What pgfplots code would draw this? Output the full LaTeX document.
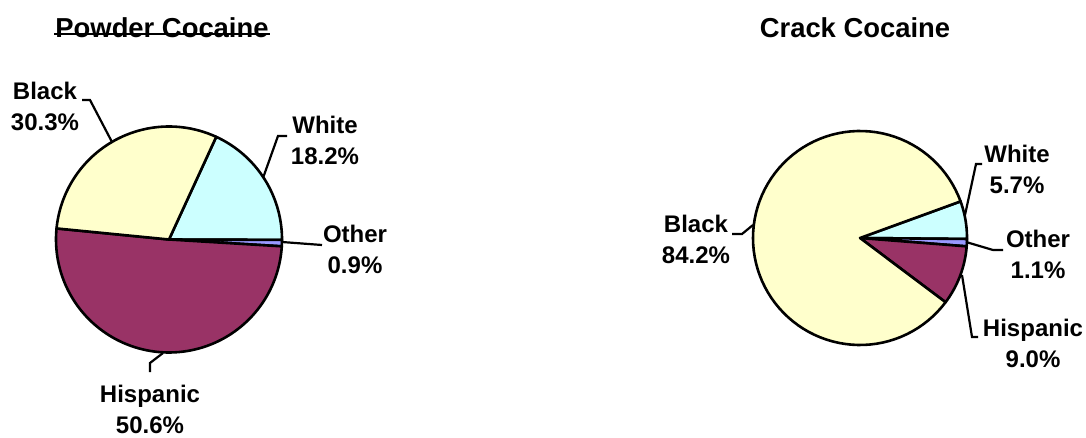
\documentclass[border=0pt]{standalone}
\usepackage{pgfplots}
\usepackage{pgfplotstable}
\pgfplotsset{compat=1.18}
\usepackage{fontspec}
\setmainfont{Liberation Sans}
\definecolor{cBlack}{HTML}{FFFFCC}
\definecolor{cWhite}{HTML}{CCFFFF}
\definecolor{cOther}{HTML}{9999FF}
\definecolor{cHisp}{HTML}{993366}

\pgfplotstableread{
group share
White 18.2
Other 0.9
Hispanic 50.6
Black 30.3
}\powder
\pgfplotstableread{
group share
White 5.7
Other 1.1
Hispanic 9.0
Black 84.2
}\crack

% slice: cx, cy, r, start angle, end angle, colour
\newcommand{\slice}[6]{%
  \addplot[draw=black, line width=1.3pt, fill=#6, line join=round, domain=#5:#4, samples=90, variable=\t]
    ({#1+#3*cos(\t)}, {#2-#3*sin(\t)}) -- (#1,#2) -- cycle;
}

\newcommand{\angles}[3]{% table, start angle, prefix
  \pgfplotstablegetelem{0}{share}\of#1\let\va\pgfplotsretval%
  \pgfplotstablegetelem{1}{share}\of#1\let\vb\pgfplotsretval%
  \pgfplotstablegetelem{2}{share}\of#1\let\vc\pgfplotsretval%
  \pgfmathsetmacro\aA{#2}%
  \pgfmathsetmacro\aB{\aA-3.6*\va}%
  \pgfmathsetmacro\aC{\aB-3.6*\vb}%
  \pgfmathsetmacro\aD{\aC-3.6*\vc}%
  \pgfmathsetmacro\aE{\aA-360}%
  \expandafter\global\expandafter\let\csname #3A\endcsname\aA%
  \expandafter\global\expandafter\let\csname #3B\endcsname\aB%
  \expandafter\global\expandafter\let\csname #3C\endcsname\aC%
  \expandafter\global\expandafter\let\csname #3D\endcsname\aD%
  \expandafter\global\expandafter\let\csname #3E\endcsname\aE%
}

\begin{document}%
\angles{\powder}{65.3}{p}%
\angles{\crack}{20}{c}%
\begin{tikzpicture}
\begin{axis}[
  width=543pt, height=219pt, scale only axis,
  xmin=0, xmax=1086, ymin=0, ymax=438, y dir=reverse,
  hide axis, clip=false,
]
% Powder cocaine
\slice{169}{239.5}{113}{\pA}{\pB}{cWhite}
\slice{169}{239.5}{113}{\pB}{\pC}{cOther}
\slice{169}{239.5}{113}{\pC}{\pD}{cHisp}
\slice{169}{239.5}{113}{\pD}{\pE}{cBlack}
% Crack cocaine
\slice{860}{238}{107}{\cA}{\cB}{cWhite}
\slice{860}{238}{107}{\cB}{\cC}{cOther}
\slice{860}{238}{107}{\cC}{\cD}{cHisp}
\slice{860}{238}{107}{\cD}{\cE}{cBlack}

% leader lines
\tikzset{lead/.style={line width=1.1pt}}
\draw[lead] (82,100) -- (90,100) -- (112,142);
\draw[lead] (287,136) -- (278,136) -- (263,178);
\draw[lead] (282,242) -- (322,245);
\draw[lead] (163,353) -- (150,363) -- (150,372);
\draw[lead] (982,164) -- (976,164) -- (965,215);
\draw[lead] (732,234) -- (742,234) -- (753,225);
\draw[lead] (966,242) -- (993,250) -- (1003,250);
\draw[lead] (962,275) -- (972,337) -- (978,337);

% labels
\tikzset{lab/.style={font=\fontsize{12}{15.5}\selectfont\bfseries, align=center, inner sep=0pt}}
\node[lab] at (45,106) {Black\\30.3\%};
\node[lab] at (325,140) {White\\18.2\%};
\node[lab] at (355,249) {Other\\0.9\%};
\node[lab] at (150,409) {Hispanic\\50.6\%};
\node[lab] at (1017,169) {White\\5.7\%};
\node[lab] at (696,239) {Black\\84.2\%};
\node[lab] at (1038,254) {Other\\1.1\%};
\node[lab] at (1033,343) {Hispanic\\9.0\%};

\node[font=\fontsize{13.7}{16}\selectfont\bfseries, inner sep=0pt] at (162,28) {Powder Cocaine};
\draw[line width=0.8pt] (54,34) -- (270,34);
\node[font=\fontsize{13.7}{16}\selectfont\bfseries, inner sep=0pt] at (855,28) {Crack Cocaine};
\end{axis}
\pgfresetboundingbox
\path (current axis.south west) rectangle (current axis.north east);
\end{tikzpicture}%
\end{document}
